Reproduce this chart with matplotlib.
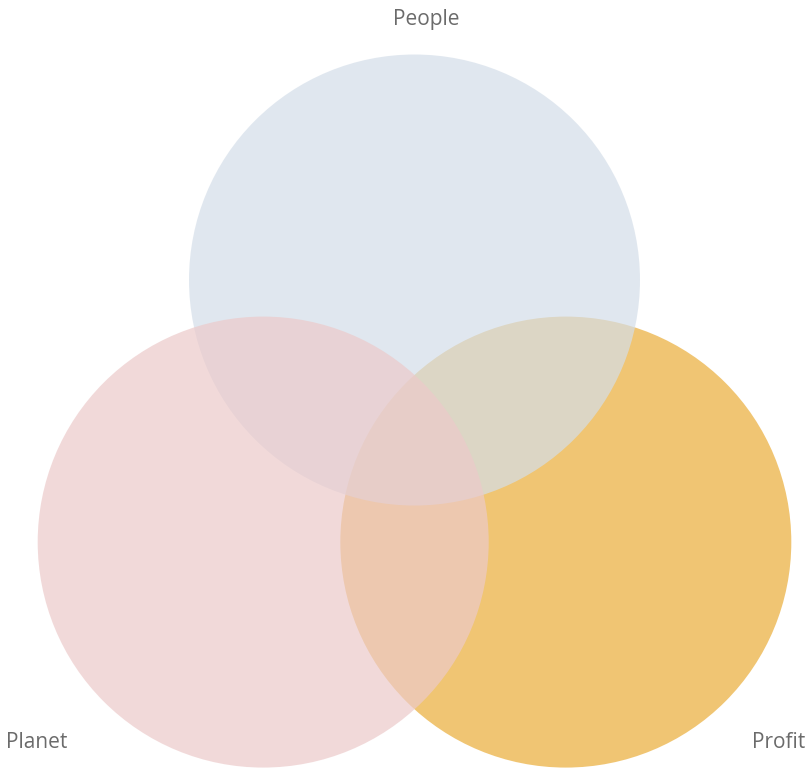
import numpy as np
import matplotlib
matplotlib.use("Agg")
import matplotlib.pyplot as plt
from matplotlib.patches import Circle

# three equal sets, equal pairwise overlap
SETS = ["Profit", "People", "Planet"]
SET_SIZES = [1.0, 1.0, 1.0]
PAIR_DISTANCE = 1.342  # center distance in units of radius

COLORS = {"People": "#d4dee9", "Planet": "#eccaca", "Profit": "#eaad38"}
ALPHA = 0.7

W, H = 807, 770
PX_PER_UNIT = 225.5


def centers():
    d = PAIR_DISTANCE
    cx, cy = 414.5 / PX_PER_UNIT, 280 / PX_PER_UNIT
    h = d * np.sqrt(3) / 2
    return {
        "People": (cx, cy),
        "Planet": (cx - d / 2, cy + h),
        "Profit": (cx + d / 2, cy + h),
    }


def main():
    plt.rcParams["font.family"] = ["Open Sans", "DejaVu Sans"]
    fig = plt.figure(figsize=(W / 100, H / 100), dpi=100)
    ax = fig.add_axes([0, 0, 1, 1])
    ax.set_xlim(0, W / PX_PER_UNIT)
    ax.set_ylim(H / PX_PER_UNIT, 0)
    ax.set_aspect("equal")
    ax.axis("off")

    c = centers()
    for name, size in zip(SETS, SET_SIZES):
        ax.add_patch(Circle(c[name], np.sqrt(size), facecolor=COLORS[name],
                            edgecolor="none", alpha=ALPHA))

    u = PX_PER_UNIT
    fs = 15
    ax.text(426 / u, 19 / u, "People", ha="center", va="center", fontsize=fs, color="#6b6b6b")
    ax.text(6 / u, 743 / u, "Planet", ha="left", va="center", fontsize=fs, color="#6b6b6b")
    ax.text(805 / u, 743 / u, "Profit", ha="right", va="center", fontsize=fs, color="#6b6b6b")

    fig.savefig("out.png", dpi=100)
    plt.close(fig)


if __name__ == "__main__":
    main()
